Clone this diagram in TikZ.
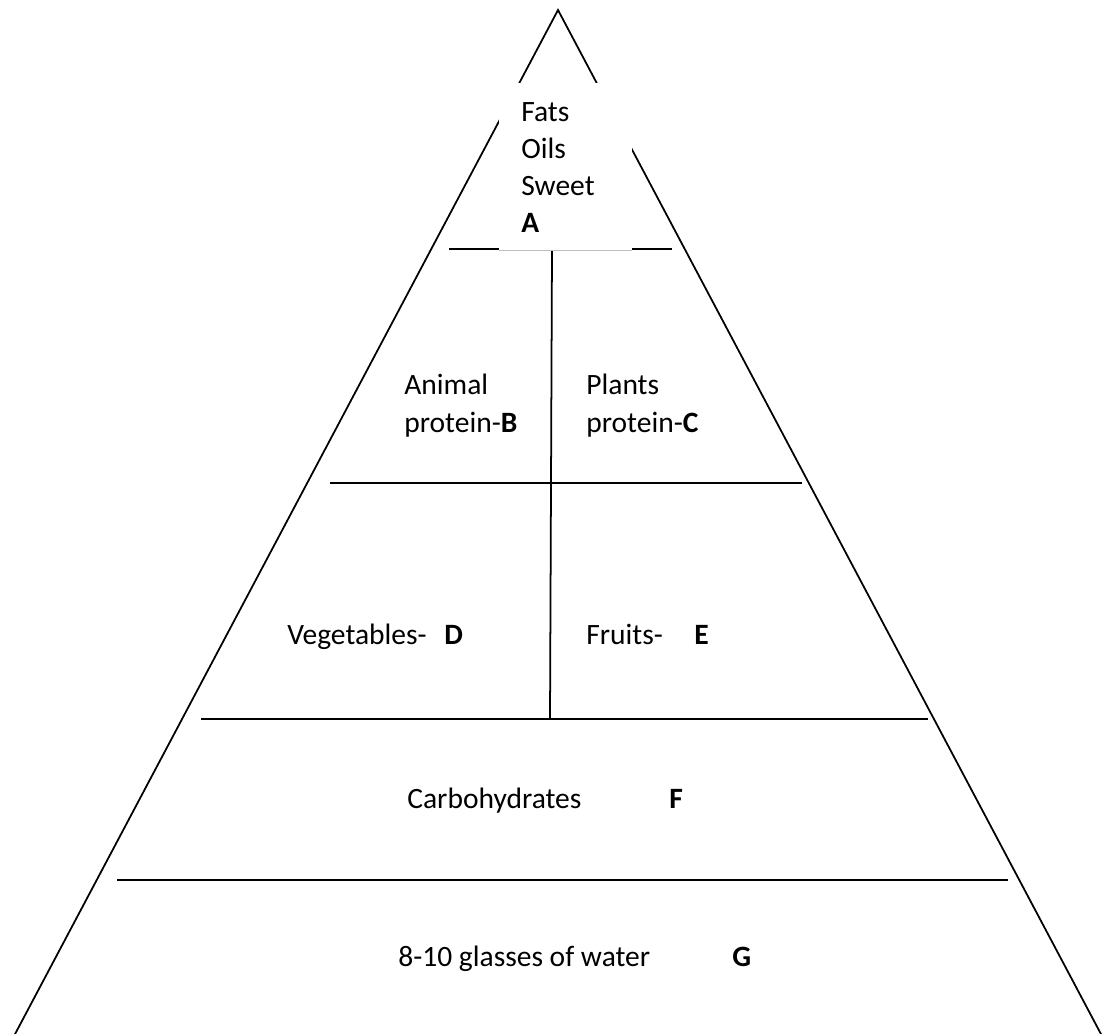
\documentclass[tikz,border=0pt]{standalone}
\usepackage{fontspec}
\setmainfont{Carlito}
\usepackage{tikz}

\tikzset{
  lbl/.style={anchor=base west, inner sep=0pt, font=\fontsize{16.8}{20}\selectfont},
  bold lbl/.style={lbl, font=\fontsize{16.8}{20}\selectfont\bfseries},
  tier/.style={line width=1pt}
}

\begin{document}
\begin{tikzpicture}[x=0.02cm, y=-0.02cm]
	  \useasboundingbox (0, 0) rectangle (1105, 1034);
	  % outline of the pyramid
	  \coordinate (apex) at (558, 10);
	  \coordinate (bl) at (14, 1036);
	  \coordinate (br) at (1102, 1036);
	  \draw[tier](bl) -- (apex) -- (br);
	  % tiers
	  \draw[tier](449, 249) -- (672, 249);
	  \draw[tier](330, 483) -- (802, 483);
	  \draw[tier](201, 719) -- (928, 719);
	  \draw[tier](117, 880) -- (1008, 880);
	  \draw[tier](552, 250) -- (550, 719);
	  % text box at the top
	  \fill[white](499, 83) rectangle (632, 250);
	  \draw[gray!50, line width=.5pt](499, 250) -- (632, 250);
	  \draw(521, 121) node[lbl](fats) {Fats};
	  \draw(521, 158) node[lbl](oils) {Oils};
	  \draw(521, 195) node[lbl](sweet) {Sweet};
	  \draw(521, 232) node[bold lbl](la) {A};
	  % proteins
	  \draw(404, 394) node[lbl](animal) {Animal};
	  \draw(404, 432) node[lbl](aprot) {protein-\textbf{B}};
	  \draw(586, 394) node[lbl](plants) {Plants};
	  \draw(586, 432) node[lbl](pprot) {protein-\textbf{C}};
	  % vegetables and fruits
	  \draw(287, 644) node[lbl](veg) {Vegetables-};
	  \draw(444, 644) node[bold lbl](ld) {D};
	  \draw(586, 644) node[lbl](fruit) {Fruits-};
	  \draw(694, 644) node[bold lbl](le) {E};
	  % carbohydrates
	  \draw(407, 808) node[lbl](carb) {Carbohydrates};
	  \draw(669, 808) node[bold lbl](lf) {F};
	  % water
	  \draw(398, 966) node[lbl](water) {8-10 glasses of water};
	  \draw(732, 966) node[bold lbl](lg) {G};
	\end{tikzpicture}
\end{document}
